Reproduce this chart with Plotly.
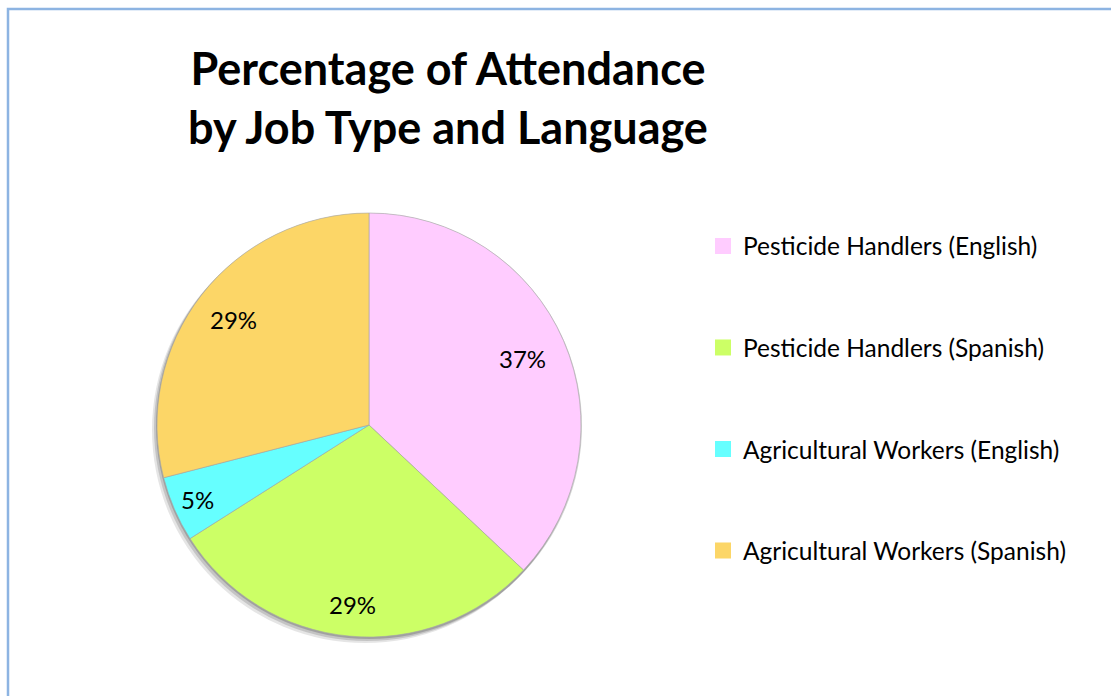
import math
import plotly.graph_objects as go

labels = ["Pesticide Handlers (English)", "Pesticide Handlers (Spanish)",
          "Agricultural Workers (English)", "Agricultural Workers (Spanish)"]
values = [37, 29, 5, 29]
colors = ["#FFCCFF", "#CCFF66", "#66FFFF", "#FCD667"]
label_radius = [0.79, 0.85, 0.88, 0.81]  # relative distance of % labels from centre
title_text = "Percentage of Attendance<br>by Job Type and Language"

W, H = 1111, 696
FONT = "Lato"

def px(x):
    return x / W

def py(y):
    return 1 - y / H

cx, cy, r = 369, 425, 212

fig = go.Figure()

# soft shadow behind the pie
shapes = []
for off, op in [(6, 0.10), (4, 0.14), (2, 0.18)]:
    shapes.append(dict(type="circle", xref="paper", yref="paper",
                       x0=px(cx - r - off + 1), x1=px(cx + r - off + 3),
                       y0=py(cy + r + off), y1=py(cy - r + off - 2),
                       fillcolor=f"rgba(0,0,0,{op})", line=dict(width=0), layer="below"))
# chart border
shapes.append(dict(type="rect", xref="paper", yref="paper",
                   x0=px(8), x1=px(W + 20), y0=py(H + 20), y1=py(9),
                   line=dict(color="#8DB4E2", width=2.5), fillcolor="rgba(0,0,0,0)", layer="above"))

fig.add_trace(go.Pie(
    labels=labels, values=values, sort=False, direction="clockwise", rotation=0,
    marker=dict(colors=colors, line=dict(color="#A6A6A6", width=0.6)),
    textinfo="none",
    domain=dict(x=[px(cx - r), px(cx + r)], y=[py(cy + r), py(cy - r)]),
    showlegend=False, hoverinfo="label+percent",
))

# percentage labels placed along each slice's mid-angle
annotations = []
total = sum(values)
start = 0.0
for v, lr in zip(values, label_radius):
    frac = v / total
    mid = (start + frac / 2) * 2 * math.pi
    start += frac
    x = cx + math.sin(mid) * r * lr
    y = cy - math.cos(mid) * r * lr
    annotations.append(dict(x=px(x), y=py(y), xref="paper", yref="paper",
                            text=f"{round(frac * 100)}%", showarrow=False,
                            xanchor="center", yanchor="middle",
                            font=dict(family=FONT, size=24, color="black")))

# legend entries (one per slice)
for lab, col in zip(labels, colors):
    fig.add_trace(go.Scatter(
        x=[None], y=[None], mode="markers", name=lab, legendgroup=lab,
        marker=dict(symbol="square", size=16, color=col),
        showlegend=True,
    ))

fig.update_layout(
    width=W, height=H,
    margin=dict(l=0, r=0, t=0, b=0),
    paper_bgcolor="white", plot_bgcolor="white",
    xaxis=dict(visible=False), yaxis=dict(visible=False),
    title=dict(text=title_text, x=px(448), xanchor="center", y=py(85), yanchor="middle",
               font=dict(family=FONT, size=45, color="black", weight="bold")),
    legend=dict(x=px(703), xanchor="left", y=py(223.5), yanchor="top",
                font=dict(family=FONT, size=24.5, color="black"),
                tracegroupgap=66.7, bgcolor="rgba(0,0,0,0)"),
    annotations=annotations,
    shapes=shapes,
)

fig.write_html("out.html")
